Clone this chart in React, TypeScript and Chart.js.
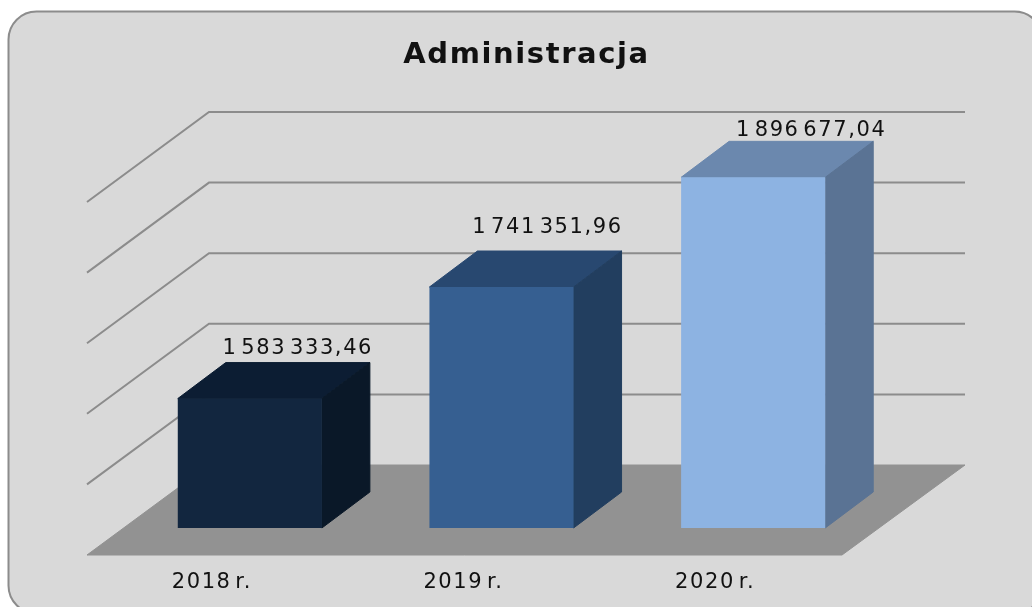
import React, { useEffect, useRef } from "react";
import { Chart, registerables } from "chart.js";

Chart.register(...registerables);

const titleText = "Administracja";
const categories = ["2018 r.", "2019 r.", "2020 r."];
const values = [1583333.46, 1741351.96, 1896677.04];
const frontColors = ["#12263F", "#365F91", "#8DB3E2"];
const topColors = ["#0C1D33", "#284870", "#6B88AE"];
const sideColors = ["#0A1828", "#223E5F", "#5A7394"];
const labelShiftX = [48, 46, 58];
const labelShiftY = [14, 23, 11];

const FONT = '"DejaVu Sans"';
const DEPTH_X = 48;
const DEPTH_Y = 36;

const fmt = (v: number) =>
  v.toFixed(2).replace(".", ",").replace(/\B(?=(\d{3})+(?!\d))(?=.*,)/g, " ");

const poly = (ctx: CanvasRenderingContext2D, pts: number[][], fill: string) => {
  ctx.beginPath();
  pts.forEach(([x, y], i) => (i ? ctx.lineTo(x, y) : ctx.moveTo(x, y)));
  ctx.closePath();
  ctx.fillStyle = fill;
  ctx.fill();
  // close the antialiasing seam between neighbouring faces
  ctx.strokeStyle = fill;
  ctx.lineWidth = 1;
  ctx.stroke();
};

const scene = {
  id: "scene3d",
  afterLayout(chart: any) {
    chart.titleBlock.left += 25;
    chart.titleBlock.right += 25;
  },
  beforeDraw(chart: any) {
    const ctx = chart.ctx;
    // text tracking of the reference lettering
    ctx.letterSpacing = "1.6px";
    ctx.wordSpacing = "-4.5px";
    ctx.save();
    ctx.beginPath();
    ctx.roundRect(8.5, 11.5, 1034, 602, 28);
    ctx.fillStyle = "#D9D9D9";
    ctx.fill();
    ctx.lineWidth = 2;
    ctx.strokeStyle = "#8C8C8C";
    ctx.stroke();
    ctx.restore();
  },
  beforeDatasetsDraw(chart: any) {
    const ctx = chart.ctx;
    const { left, right, bottom } = chart.chartArea;
    const y = chart.scales.y;
    const floorBackY = bottom - 63;
    const floorFrontY = bottom + 27;
    ctx.save();
    poly(
      ctx,
      [
        [left - 37, floorFrontY],
        [right - 37, floorFrontY],
        [right + 86, floorBackY],
        [left + 85, floorBackY],
      ],
      "#929292"
    );
    ctx.strokeStyle = "#8C8C8C";
    ctx.lineWidth = 2;
    y.ticks.forEach((t: any) => {
      if (t.value <= y.min) return;
      const yy = y.getPixelForValue(t.value) - 63;
      ctx.beginPath();
      ctx.moveTo(left - 37, yy + 90);
      ctx.lineTo(left + 85, yy);
      ctx.lineTo(right + 86, yy);
      ctx.stroke();
    });
    const meta = chart.getDatasetMeta(0);
    meta.data.forEach((bar: any, i: number) => {
      const half = bar.width / 2;
      const l = bar.x - half;
      const r = bar.x + half;
      const top = bar.y;
      const bot = y.getPixelForValue(y.min);
      poly(ctx, [[l, top], [r, top], [r + DEPTH_X, top - DEPTH_Y], [l + DEPTH_X, top - DEPTH_Y]], topColors[i]);
      poly(ctx, [[r, top], [r + DEPTH_X, top - DEPTH_Y], [r + DEPTH_X, bot - DEPTH_Y], [r, bot]], sideColors[i]);
    });
    ctx.restore();
  },
  afterDatasetsDraw(chart: any) {
    const ctx = chart.ctx;
    const meta = chart.getDatasetMeta(0);
    ctx.save();
    ctx.font = `21px ${FONT}`;
    ctx.fillStyle = "#111111";
    ctx.textAlign = "center";
    ctx.textBaseline = "middle";
    meta.data.forEach((bar: any, i: number) => {
      ctx.fillText(
        fmt(values[i]),
        bar.x + labelShiftX[i],
        bar.y - DEPTH_Y - labelShiftY[i]
      );
    });
    ctx.restore();
  },
  afterDraw(chart: any) {
    chart.ctx.letterSpacing = "0px";
    chart.ctx.wordSpacing = "0px";
  },
};

export default function App() {
  const ref = useRef<HTMLCanvasElement>(null);
  useEffect(() => {
    document.body.style.margin = "0";
    document.body.style.background = "#FFFFFF";
    const chart = new Chart(ref.current!, {
      type: "bar",
      data: {
        labels: categories,
        datasets: [
          {
            label: titleText,
            data: values,
            backgroundColor: frontColors,
            categoryPercentage: 1,
            barPercentage: 0.5726,
          },
        ],
      },
      options: {
        responsive: false,
        animation: false,
        layout: { padding: { left: 124, right: 153, top: 0, bottom: 0 } },
        plugins: {
          legend: { display: false },
          tooltip: { enabled: false },
          title: {
            display: true,
            text: titleText,
            color: "#111111",
            font: { family: FONT, size: 29, weight: "bold", lineHeight: 1.2 },
            padding: { top: 38.5, bottom: 101.7 },
          },
        },
        scales: {
          x: {
            grid: { display: false },
            border: { display: false },
            afterFit: (s: any) => {
              s.height = 79;
            },
            ticks: {
              color: "#111111",
              font: { family: FONT, size: 21 },
              padding: 34,
              labelOffset: -38,
              maxRotation: 0,
            },
          },
          y: {
            display: false,
            min: 1400000,
            max: 1900000,
            ticks: { stepSize: 100000 },
          },
        },
      },
      plugins: [scene],
    } as any);
    return () => chart.destroy();
  }, []);
  return <canvas ref={ref} width={1032} height={607} style={{ display: "block" }} />;
}
